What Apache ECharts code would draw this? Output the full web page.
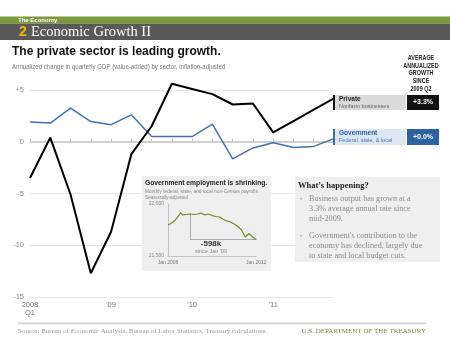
<!DOCTYPE html>
<html><head><meta charset="utf-8">
<script src="https://cdn.jsdelivr.net/npm/echarts@6/dist/echarts.min.js"></script>
<style>html,body{margin:0;padding:0;background:#fff}#c{width:450px;height:348px}</style>
</head><body><div id="c"></div><script>
// ---- data ----
const quarterLabels = ['2008\nQ1','','','',"'09",'','','',"'10",'','','',"'11",'','',''];
const privateSector = [-3.5, 0.4, -5.1, -12.7, -8.7, -1.2, 1.5, 5.6, 5.1, 4.6, 3.6, 3.7, 0.9, 2.0, 3.1, 4.2];
const government   = [1.9, 1.8, 3.25, 1.95, 1.65, 2.6, 0.5, 0.5, 0.5, 1.7, -1.65, -0.6, -0.1, -0.55, -0.45, 0.3];
const yTicks = [-15, -10, -5, 0, 5];
const insetMonths   = [0, 2, 4, 6, 7, 8, 10, 12, 14, 16, 18, 20, 22, 24, 26, 28, 30, 32, 34, 36, 38, 40, 42, 43, 44, 45, 46, 47, 48];
const insetPayrolls = [21798, 21817, 21846, 21894, 21916, 21894, 21899, 21904, 21899, 21904, 21913, 21894, 21904, 21889, 21880, 21875, 21853, 21837, 21827, 21808, 21784, 21750, 21683, 21668, 21716, 21697, 21683, 21668, 21659];
const insetTicks = [21500, 22000];
const insetXLabels = ['Jan 2008', 'Jan 2012'];
const growthPrivate = '+3.3%';
const growthGov = '+0.0%';
const bullets = [
  ['Business output has grown at a', '3.3% average annual rate since', 'mid-2009.'],
  ["Government's contribution to the", 'economy has declined, largely due', 'to state and local budget cuts.']
];

const SANS = "'Liberation Sans', Arial, sans-serif";
const SERIF = "'Liberation Serif', 'DejaVu Serif', serif";

function T(text, x, y, font, fill, align, sx) {
  return { type: 'text', x: x, y: y, z: 20, silent: true, scaleX: sx || 1,
    style: { text: text, font: font, fill: fill, align: align || 'left', verticalAlign: 'middle',
             textAlign: align || 'left', textVerticalAlign: 'middle' } };
}
function R(x, y, w, h, fill, z) {
  return { type: 'rect', z: z || 5, silent: true, shape: { x: x, y: y, width: w, height: h }, style: { fill: fill } };
}

const jan09 = insetMonths.indexOf(12);
const lastIdx = insetPayrolls.length - 1;
const endVal = insetPayrolls[lastIdx];

const graphics = [
  // header
  R(0, 16.5, 450, 7, '#7b9a3c', 1),
  R(0, 23.5, 450, 16.5, '#595959', 1),
  T('The Economy', 18, 20, "bold 6px " + SANS, '#fff'),
  T('2', 19, 32, "bold 14px " + SANS, '#f2b705'),
  T('Economic Growth II', 31, 32, "14.5px " + SERIF, '#fff'),
  // title
  T('The private sector is leading growth.', 12, 52, "bold 12px " + SANS, '#111'),
  T('Annualized change in quarterly GDP (value-added) by sector, inflation-adjusted', 12, 67, "7px " + SANS, '#777', 'left', 0.87),
  // right heading
  { type: 'text', x: 421, y: 54, z: 20, silent: true, scaleX: 0.8,
    style: { text: 'AVERAGE\nANNUALIZED\nGROWTH\nSINCE\n2009 Q2', font: "bold 6.8px " + SANS, fill: '#222',
             align: 'center', textAlign: 'center', lineHeight: 7.8 } },
  // private box
  R(333, 95, 73, 15, '#dadada', 10),
  R(333, 95, 2, 15, '#111', 11),
  T('Private', 339, 99.5, "bold 6.5px " + SANS, '#222'),
  T('Nonfarm businesses', 339, 106.5, "5.5px " + SANS, '#666'),
  R(407, 95, 32, 15, '#111', 10),
  T(growthPrivate, 423, 102.5, "bold 7px " + SANS, '#fff', 'center'),
  // government box
  R(333, 129, 73, 16, '#dde7f3', 10),
  R(333, 129, 2, 16, '#3b6fae', 11),
  T('Government', 339, 133.5, "bold 6.5px " + SANS, '#2c5d98'),
  T('Federal, state, & local', 339, 140.5, "5.5px " + SANS, '#4a77b0'),
  R(407, 129, 32, 16, '#2f62a0', 10),
  T(growthGov, 423, 137, "bold 7px " + SANS, '#fff', 'center'),
  // inset box
  R(142, 176, 129, 95, '#efefef', 6),
  T('Government employment is shrinking.', 145, 183, "bold 7.8px " + SANS, '#222', 'left', 0.86),
  T('Monthly federal, state, and local non-Census payrolls', 145, 191.5, "4.8px " + SANS, '#888'),
  T('Seasonally-adjusted', 145, 197.5, "4.8px " + SANS, '#888'),
  T('-598k', 211, 244, "bold 8px " + SANS, '#333', 'center'),
  T("since Jan '09", 211, 251.5, "5.5px " + SANS, '#888', 'center'),
  // what's happening box
  R(295, 177, 145, 85, '#efefef', 6),
  T("What\u2019s happening?", 298, 186, "bold 8.5px " + SERIF, '#222'),
  // footer
  R(18, 322.5, 408, 1.8, '#d2d2d2', 1),
  T('Source: Bureau of Economic Analysis, Bureau of Labor Statistics, Treasury calculations.', 18, 331, "7px " + SERIF, '#9a9a9a'),
  T('U.S. DEPARTMENT OF THE TREASURY', 426, 331, "7px " + SERIF, '#7b8b3b', 'right')
];
const bulletStartY = [199, 236];
bullets.forEach(function (lines, bi) {
  graphics.push(T('\u2022', 300, bulletStartY[bi], "7px " + SERIF, '#999'));
  lines.forEach(function (ln, li) {
    graphics.push(T(ln, 309, bulletStartY[bi] + li * 10, "8.2px " + SERIF, '#8a8a8a'));
  });
});

const chart = echarts.init(document.getElementById('c'), null, { renderer: 'canvas' });
chart.setOption({
  animation: false,
  backgroundColor: '#fff',
  grid: [
    { left: 30, right: 116, top: 90, bottom: 51, containLabel: false },
    { left: 168, right: 193.7, top: 204, bottom: 92, containLabel: false, z: 8 }
  ],
  xAxis: [
    { type: 'category', gridIndex: 0, data: quarterLabels, boundaryGap: false,
      axisLine: { lineStyle: { color: '#bbb', width: 1 } },
      axisTick: { show: true, inside: true, length: 3, interval: 0, lineStyle: { color: '#bbb' } },
      axisLabel: { interval: 0, color: '#777', fontSize: 7.5, fontFamily: SANS, lineHeight: 8, margin: 4 },
      splitLine: { show: false } },
    { type: 'value', gridIndex: 1, min: 0, max: 48, interval: 48, z: 15,
      axisLine: { show: true, lineStyle: { color: '#c4c4c4' } },
      axisTick: { show: false },
      axisLabel: { color: '#777', fontSize: 5, fontFamily: SANS, margin: 4,
        formatter: function (v) { return v === 0 ? insetXLabels[0] : insetXLabels[1]; } },
      splitLine: { show: false } }
  ],
  yAxis: [
    { type: 'value', gridIndex: 0, min: yTicks[0], max: yTicks[yTicks.length - 1], interval: 5,
      axisLine: { show: false }, axisTick: { show: false },
      axisLabel: { color: '#888', fontSize: 7.5, fontFamily: SANS, margin: 6,
        formatter: function (v) { return v > 0 ? '+' + v : String(v); } },
      splitLine: { show: true, lineStyle: { color: '#e6e6e6', width: 1 } } },
    { type: 'value', gridIndex: 1, min: insetTicks[0], max: insetTicks[1], interval: 500, z: 15,
      axisLine: { show: true, lineStyle: { color: '#c4c4c4' } }, axisTick: { show: false },
      axisLabel: { color: '#888', fontSize: 5, fontFamily: SANS, margin: 4,
        formatter: function (v) { return v.toLocaleString('en-US'); } },
      splitLine: { show: false } }
  ],
  graphic: graphics,
  series: [
    { type: 'line', xAxisIndex: 0, yAxisIndex: 0, data: government, symbol: 'none', clip: false, z: 3,
      lineStyle: { color: '#3f72b0', width: 1.5 },
      markLine: { silent: true, symbol: 'none', label: { show: false }, z: 1,
        lineStyle: { color: '#cfcfcf', width: 2, type: 'solid' }, data: [{ yAxis: 0 }] } },
    { type: 'line', xAxisIndex: 0, yAxisIndex: 0, data: privateSector, symbol: 'none', clip: false, z: 4,
      lineStyle: { color: '#000', width: 2 } },
    { type: 'line', xAxisIndex: 1, yAxisIndex: 1, z: 16,
      data: insetMonths.map(function (m, i) { return [m, insetPayrolls[i]]; }),
      symbol: 'none', lineStyle: { color: '#6e8c26', width: 1.2 },
      markLine: { silent: true, symbol: 'none', label: { show: false }, z: 15,
        lineStyle: { color: '#999', width: 0.8, type: 'solid' },
        data: [
          [{ coord: [insetMonths[jan09], insetPayrolls[jan09]] }, { coord: [insetMonths[jan09], endVal] }],
          [{ coord: [insetMonths[jan09], endVal] }, { coord: [insetMonths[lastIdx], endVal] }]
        ] } }
  ]
});
</script></body></html>
